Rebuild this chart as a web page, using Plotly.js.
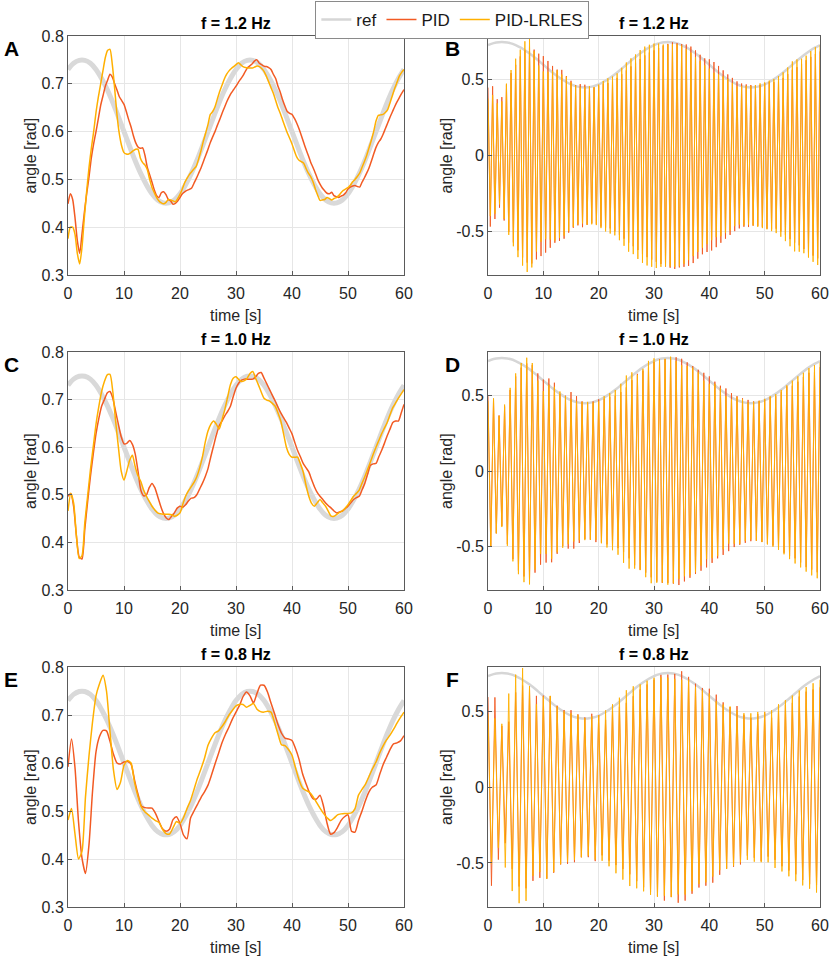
<!DOCTYPE html>
<html>
<head>
<meta charset="utf-8">
<script src="https://cdn.plot.ly/plotly-3.0.1.min.js"></script>
<style>html,body{margin:0;padding:0;background:#fff;}#chart{width:830px;height:958px;}</style>
</head>
<body>
<div id="chart"></div>
<script>
// ---------- DATA ----------
const freqs = [1.2, 1.0, 0.8];
const titles = ["f = 1.2 Hz", "f = 1.0 Hz", "f = 0.8 Hz"];
const panelLetters = [["A", "B"], ["C", "D"], ["E", "F"]];
const seriesNames = ["ref", "PID", "PID-LRLES"];

// reference amplitude, 1 s steps (0..60 s)
const refTime = [0,1,2,3,4,5,6,7,8,9,10,11,12,13,14,15,16,17,18,19,20,21,22,23,24,25,26,27,28,29,30,
  31,32,33,34,35,36,37,38,39,40,41,42,43,44,45,46,47,48,49,50,51,52,53,54,55,56,57,58,59,60];
const refAngle = [0.730,0.743,0.749,0.749,0.743,0.730,0.711,0.688,0.661,0.631,
  0.600,0.569,0.539,0.512,0.489,0.470,0.457,0.451,0.451,0.457,
  0.470,0.489,0.512,0.539,0.569,0.600,0.631,0.661,0.688,0.711,
  0.730,0.743,0.749,0.749,0.743,0.730,0.711,0.688,0.661,0.631,
  0.600,0.569,0.539,0.512,0.489,0.470,0.457,0.451,0.451,0.457,
  0.470,0.489,0.512,0.539,0.569,0.600,0.631,0.661,0.688,0.711,
  0.730];

// peak amplitudes at every half period (1/(2f) s), f = 1.2 Hz
const pid12 = [0.449,0.47,0.458,0.42,0.372,0.345,0.386,0.43,0.47,0.505,
  0.545,0.575,0.60,0.627,0.655,0.675,0.695,0.708,0.72,0.714,
  0.70,0.687,0.673,0.665,0.657,0.642,0.625,0.61,0.592,0.577,
  0.568,0.565,0.566,0.55,0.525,0.51,0.494,0.478,0.466,0.462,
  0.472,0.474,0.468,0.458,0.455,0.448,0.450,0.455,0.462,0.470,
  0.474,0.477,0.479,0.482,0.492,0.502,0.513,0.524,0.537,0.55,
  0.563,0.577,0.589,0.60,0.613,0.625,0.638,0.65,0.662,0.672,
  0.681,0.688,0.695,0.703,0.71,0.717,0.726,0.734,0.738,0.742,
  0.748,0.750,0.743,0.740,0.737,0.736,0.734,0.73,0.72,0.711,
  0.695,0.682,0.666,0.653,0.642,0.638,0.636,0.628,0.618,0.606,
  0.592,0.577,0.563,0.55,0.536,0.525,0.513,0.50,0.49,0.482,
  0.476,0.471,0.47,0.473,0.466,0.464,0.462,0.465,0.467,0.472,
  0.48,0.484,0.486,0.487,0.485,0.484,0.494,0.503,0.513,0.524,
  0.538,0.553,0.567,0.577,0.584,0.594,0.606,0.618,0.63,0.641,
  0.652,0.662,0.671,0.68,0.688];
const lrles12 = [0.376,0.40,0.40,0.385,0.345,0.323,0.358,0.42,0.475,0.525,
  0.565,0.60,0.64,0.672,0.70,0.728,0.755,0.77,0.772,0.74,
  0.69,0.635,0.595,0.57,0.556,0.553,0.553,0.556,0.56,0.563,
  0.563,0.545,0.535,0.53,0.52,0.50,0.483,0.472,0.462,0.455,
  0.451,0.449,0.452,0.458,0.457,0.455,0.453,0.46,0.469,0.48,
  0.493,0.502,0.51,0.516,0.522,0.528,0.543,0.56,0.58,0.597,
  0.615,0.636,0.642,0.652,0.668,0.684,0.697,0.71,0.72,0.727,
  0.732,0.736,0.74,0.744,0.74,0.736,0.734,0.733,0.733,0.733,
  0.735,0.737,0.736,0.732,0.726,0.716,0.704,0.692,0.68,0.665,
  0.65,0.638,0.624,0.61,0.597,0.586,0.574,0.56,0.547,0.54,
  0.537,0.534,0.523,0.513,0.506,0.495,0.48,0.467,0.456,0.457,
  0.458,0.462,0.46,0.457,0.46,0.462,0.466,0.472,0.477,0.48,
  0.483,0.488,0.495,0.50,0.506,0.513,0.525,0.537,0.55,0.566,
  0.582,0.60,0.622,0.634,0.635,0.636,0.64,0.646,0.66,0.675,
  0.69,0.703,0.716,0.724,0.73];

// f = 1.0 Hz
const pid10 = [0.497,0.503,0.476,0.414,0.369,0.365,0.428,0.485,0.538,0.585,
  0.628,0.66,0.686,0.70,0.714,0.717,0.703,0.675,0.648,0.622,
  0.607,0.608,0.614,0.606,0.586,0.55,0.51,0.498,0.50,0.515,
  0.524,0.515,0.497,0.478,0.462,0.452,0.448,0.455,0.462,0.472,
  0.476,0.474,0.479,0.487,0.493,0.494,0.50,0.512,0.524,0.538,
  0.555,0.58,0.603,0.626,0.645,0.655,0.666,0.675,0.686,0.706,
  0.724,0.735,0.741,0.743,0.743,0.743,0.743,0.748,0.755,0.757,
  0.745,0.733,0.721,0.709,0.697,0.684,0.672,0.662,0.652,0.64,
  0.628,0.61,0.593,0.58,0.566,0.557,0.548,0.532,0.517,0.505,
  0.497,0.49,0.483,0.477,0.472,0.466,0.462,0.464,0.466,0.471,
  0.476,0.483,0.49,0.494,0.497,0.51,0.524,0.543,0.562,0.565,
  0.566,0.58,0.593,0.608,0.624,0.638,0.652,0.655,0.655,0.672,
  0.69];
const lrles10 = [0.466,0.503,0.483,0.414,0.366,0.372,0.441,0.497,0.552,0.60,
  0.648,0.685,0.717,0.738,0.752,0.753,0.717,0.655,0.60,0.55,
  0.531,0.55,0.572,0.583,0.559,0.54,0.528,0.51,0.497,0.486,
  0.476,0.468,0.462,0.46,0.459,0.459,0.459,0.458,0.455,0.457,
  0.462,0.48,0.497,0.508,0.517,0.526,0.538,0.556,0.579,0.61,
  0.634,0.648,0.655,0.648,0.638,0.658,0.679,0.705,0.731,0.745,
  0.748,0.742,0.738,0.74,0.745,0.755,0.759,0.745,0.731,0.716,
  0.703,0.699,0.697,0.692,0.686,0.672,0.655,0.628,0.60,0.585,
  0.579,0.579,0.579,0.565,0.548,0.52,0.497,0.482,0.476,0.483,
  0.49,0.483,0.476,0.465,0.455,0.455,0.459,0.463,0.466,0.472,
  0.479,0.488,0.497,0.503,0.51,0.524,0.538,0.553,0.569,0.585,
  0.60,0.614,0.628,0.64,0.652,0.668,0.683,0.693,0.703,0.712,
  0.721];

// f = 0.8 Hz
const pid08 = [0.592,0.65,0.59,0.478,0.402,0.37,0.43,0.54,0.623,0.655,
  0.668,0.667,0.645,0.618,0.60,0.598,0.602,0.603,0.598,0.565,
  0.535,0.51,0.507,0.506,0.506,0.495,0.478,0.463,0.458,0.462,
  0.482,0.488,0.474,0.45,0.442,0.485,0.50,0.514,0.528,0.54,
  0.554,0.575,0.598,0.62,0.642,0.66,0.675,0.692,0.706,0.72,
  0.738,0.748,0.74,0.725,0.745,0.762,0.762,0.748,0.725,0.703,
  0.68,0.662,0.652,0.65,0.647,0.63,0.608,0.578,0.557,0.538,
  0.526,0.525,0.533,0.51,0.475,0.452,0.455,0.466,0.48,0.488,
  0.492,0.458,0.456,0.48,0.50,0.522,0.54,0.55,0.554,0.575,
  0.596,0.612,0.628,0.64,0.642,0.646,0.657];
const lrles08 = [0.481,0.505,0.452,0.40,0.416,0.53,0.615,0.685,0.74,0.765,
  0.783,0.75,0.665,0.585,0.545,0.56,0.595,0.605,0.60,0.56,
  0.53,0.508,0.498,0.492,0.485,0.48,0.476,0.462,0.453,0.452,
  0.465,0.478,0.474,0.486,0.505,0.522,0.545,0.568,0.588,0.61,
  0.637,0.652,0.663,0.667,0.676,0.687,0.70,0.71,0.719,0.722,
  0.722,0.716,0.72,0.724,0.712,0.707,0.706,0.708,0.706,0.685,
  0.66,0.638,0.636,0.628,0.616,0.59,0.565,0.548,0.543,0.539,
  0.53,0.518,0.506,0.495,0.486,0.48,0.485,0.492,0.494,0.495,
  0.495,0.496,0.505,0.533,0.545,0.556,0.572,0.588,0.602,0.62,
  0.635,0.648,0.658,0.67,0.683,0.695,0.706];

const pidSets = [pid12, pid10, pid08];
const lrlesSets = [lrles12, lrles10, lrles08];

// ---------- STYLE ----------
const colRef = "#d9d9d9";
const colPID = "#F25A23";
const colLR = "#FFB000";
const FONT = "Liberation Sans, Arial, Helvetica, sans-serif";
const W = 830, H = 958;

// plot-area pixel boxes
const colX = [[68, 404], [488, 820]];
const rowY = [[36, 275], [352, 590], [667, 907]];

function halfTimes(f, n) { const out = []; for (let k = 0; k < n; k++) out.push(k / (2 * f)); return out; }
function alternate(a) { return a.map((v, k) => (k % 2 === 0 ? v : -v)); }

const traces = [];
const layout = {
  width: W, height: H,
  margin: {l: 0, r: 0, t: 0, b: 0},
  paper_bgcolor: "#fff", plot_bgcolor: "#fff",
  font: {family: FONT, size: 15, color: "#262626"},
  showlegend: true,
  legend: {
    orientation: "h", x: 0.545, xanchor: "center", y: 1 - 1 / H, yanchor: "top",
    bordercolor: "#8a8a8a", borderwidth: 1, bgcolor: "#fff",
    font: {family: FONT, size: 17, color: "#1a1a1a"},
    itemwidth: 30, tracegroupgap: 0, traceorder: "normal"
  },
  annotations: []
};

function axisBase() {
  return {
    showline: true, mirror: true, linecolor: "#5a5a5a", linewidth: 1,
    ticks: "inside", ticklen: 4, tickcolor: "#5a5a5a",
    showgrid: true, gridcolor: "#e6e6e6", gridwidth: 1, zeroline: false,
    tickfont: {family: FONT, size: 16, color: "#262626"}
  };
}

for (let r = 0; r < 3; r++) {
  const f = freqs[r];
  const pid = pidSets[r], lr = lrlesSets[r];
  const tt = halfTimes(f, pid.length);
  for (let c = 0; c < 2; c++) {
    const i = r * 2 + c + 1;
    const xa = "x" + (i === 1 ? "" : i), ya = "y" + (i === 1 ? "" : i);
    const xKey = "xaxis" + (i === 1 ? "" : i), yKey = "yaxis" + (i === 1 ? "" : i);
    const first = (r === 0);
    if (c === 0) {
      traces.push({x: refTime, y: refAngle, xaxis: xa, yaxis: ya, type: "scatter", mode: "lines",
        name: seriesNames[0], showlegend: false, line: {color: colRef, width: 5, shape: "spline"}, hoverinfo: "skip"});
      traces.push({x: tt, y: pid, xaxis: xa, yaxis: ya, type: "scatter", mode: "lines",
        name: seriesNames[1], showlegend: first, legendrank: 2,
        line: {color: colPID, width: 1.5, shape: "spline", smoothing: 0.6}});
      traces.push({x: tt, y: lr, xaxis: xa, yaxis: ya, type: "scatter", mode: "lines",
        name: seriesNames[2], showlegend: first, legendrank: 3,
        line: {color: colLR, width: 1.5, shape: "spline", smoothing: 0.6}});
    } else {
      traces.push({x: refTime, y: refAngle, xaxis: xa, yaxis: ya, type: "scatter", mode: "lines",
        name: seriesNames[0], showlegend: first, legendrank: 1,
        line: {color: "#d6d6d6", width: 2.5, shape: "spline"}});
      traces.push({x: tt, y: alternate(pid), xaxis: xa, yaxis: ya, type: "scatter", mode: "lines",
        name: seriesNames[1], showlegend: false, line: {color: colPID, width: 0.9}});
      traces.push({x: tt, y: alternate(lr), xaxis: xa, yaxis: ya, type: "scatter", mode: "lines",
        name: seriesNames[2], showlegend: false, line: {color: colLR, width: 0.9}});
    }
    const xaxis = Object.assign(axisBase(), {
      domain: [colX[c][0] / W, colX[c][1] / W], anchor: ya,
      range: [0, 60], tickvals: [0, 10, 20, 30, 40, 50, 60], ticklabelstandoff: 4
    });
    const yaxis = Object.assign(axisBase(), {
      domain: [1 - rowY[r][1] / H, 1 - rowY[r][0] / H], anchor: xa
    });
    if (c === 0) {
      Object.assign(yaxis, {range: [0.3, 0.8], tickvals: [0.3, 0.4, 0.5, 0.6, 0.7, 0.8],
        ticktext: ["0.3", "0.4", "0.5", "0.6", "0.7", "0.8"]});
    } else {
      Object.assign(yaxis, {range: [-0.79, 0.79], tickvals: [-0.5, 0, 0.5], ticktext: ["-0.5", "0", "0.5"]});
    }
    layout[xKey] = xaxis;
    layout[yKey] = yaxis;

    const cx = (colX[c][0] + colX[c][1]) / 2;
    const cy = (rowY[r][0] + rowY[r][1]) / 2;
    // subplot title
    layout.annotations.push({xref: "paper", yref: "paper", x: cx / W, y: 1 - (rowY[r][0] - 13) / H,
      text: "<b>" + titles[r] + "</b>", showarrow: false, xanchor: "center", yanchor: "middle",
      font: {family: FONT, size: 16, color: "#000"}});
    // panel letter
    const lx = c === 0 ? 11 : 452;
    layout.annotations.push({xref: "paper", yref: "paper", x: lx / W, y: 1 - (rowY[r][0] + 12) / H,
      text: "<b>" + panelLetters[r][c] + "</b>", showarrow: false, xanchor: "center", yanchor: "middle",
      font: {family: FONT, size: 21, color: "#000"}});
    // y title
    layout.annotations.push({xref: "paper", yref: "paper", x: (c === 0 ? 30 : 446) / W, y: 1 - cy / H,
      text: "angle [rad]", textangle: -90, showarrow: false, xanchor: "center", yanchor: "middle",
      font: {family: FONT, size: 16, color: "#262626"}});
    // x title
    layout.annotations.push({xref: "paper", yref: "paper", x: cx / W, y: 1 - (rowY[r][1] + 40) / H,
      text: "time [s]", showarrow: false, xanchor: "center", yanchor: "middle",
      font: {family: FONT, size: 16, color: "#262626"}});
  }
}

Plotly.newPlot("chart", traces, layout, {staticPlot: true, displayModeBar: false});
</script>
</body>
</html>
